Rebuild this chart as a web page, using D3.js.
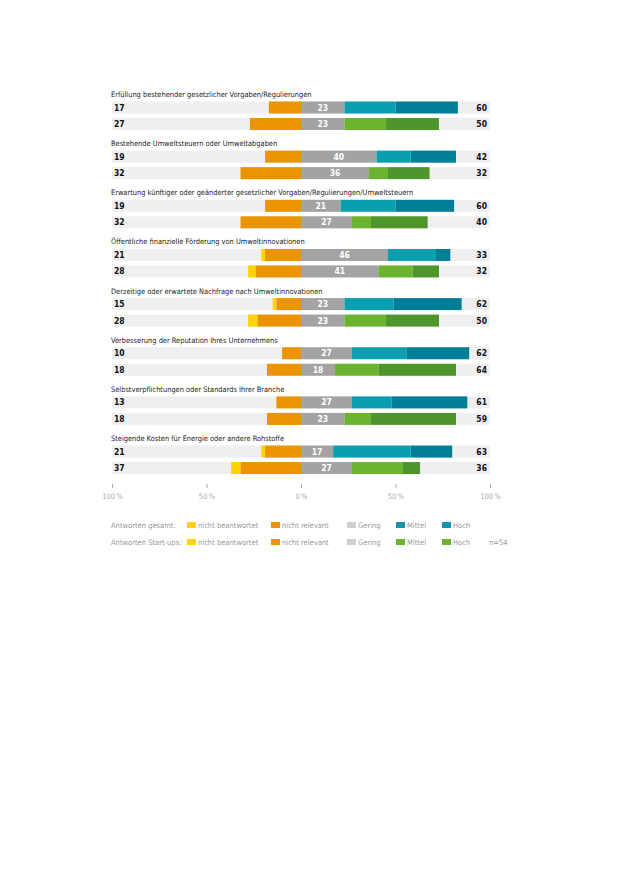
<!DOCTYPE html>
<html>
<head>
<meta charset="utf-8">
<script src="https://cdn.jsdelivr.net/npm/d3@7"></script>
<style>
  body { margin: 0; background: #fff; }
  text { font-family: "Liberation Sans Narrow", "DejaVu Sans Condensed", Roboto, sans-serif; }
</style>
</head>
<body>
<svg width="630" height="891"></svg>
<script>
var svg = d3.select('svg');

// categories (one title per pair of bars)
var categories = [
    "Erfüllung bestehender gesetzlicher Vorgaben/Regulierungen",
    "Bestehende Umweltsteuern oder Umweltabgaben",
    "Erwartung künftiger oder geänderter gesetzlicher Vorgaben/Regulierungen/Umweltsteuern",
    "Öffentliche finanzielle Förderung von Umweltinnovationen",
    "Derzeitige oder erwartete Nachfrage nach Umweltinnovationen",
    "Verbesserung der Reputation Ihres Unternehmens",
    "Selbstverpflichtungen oder Standards Ihrer Branche",
    "Steigende Kosten für Energie oder andere Rohstoffe"
];

// Antworten gesamt
var gesamtNichtBeantwortet = [0, 0, 0, 2, 2, 0, 0, 2];
var gesamtNichtRelevant    = [17, 19, 19, 19, 13, 10, 13, 19];
var gesamtGering           = [23, 40, 21, 46, 23, 27, 27, 17];
var gesamtMittel           = [27, 18, 29, 25, 26, 29, 21, 41];
var gesamtHoch             = [33, 24, 31, 8, 36, 33, 40, 22];

// Antworten Start-ups
var startNichtBeantwortet = [0, 0, 0, 4, 5, 0, 0, 5];
var startNichtRelevant    = [27, 32, 32, 24, 23, 18, 18, 32];
var startGering           = [23, 36, 27, 41, 23, 18, 23, 27];
var startMittel           = [22, 10, 10, 18, 22, 23, 14, 27];
var startHoch             = [28, 22, 30, 14, 28, 41, 45, 9];

var axisTicks = [-100, -50, 0, 50, 100];

var colors = {
    nb: '#ffd400', nr: '#ec9400', gering: '#a3a3a3',
    mittelG: '#0a9fb0', hochG: '#007e97',
    mittelS: '#6cb42f', hochS: '#4e962b'
};

// build the rows from the arrays
var rows = [];
categories.forEach(function(c, i){
    rows.push({cat: i, type: 'g', nb: gesamtNichtBeantwortet[i], nr: gesamtNichtRelevant[i],
        gering: gesamtGering[i], mittel: gesamtMittel[i], hoch: gesamtHoch[i]});
    rows.push({cat: i, type: 's', nb: startNichtBeantwortet[i], nr: startNichtRelevant[i],
        gering: startGering[i], mittel: startMittel[i], hoch: startHoch[i]});
});

var x = d3.scaleLinear().domain([-100, 100]).range([112, 490]);
var catY = d3.scaleBand().domain(d3.range(categories.length)).range([94, 94 + 8 * 49.15]);
var rowOffset = {g: 13.5, s: 30};   // row centre below the category title
var barH = 12;

function rowCenter(d){ return catY(d.cat) + rowOffset[d.type]; }

// category titles
svg.selectAll('.title')
    .data(categories)
    .enter()
    .append('text')
    .attr('class', 'title')
    .attr('x', 111)
    .attr('y', function(d, i){ return catY(i) + 3; })
    .style('font-size', '7.4px')
    .style('fill', '#222')
    .text(function(d){ return d; });

// gray background rows
svg.selectAll('.bg')
    .data(rows)
    .enter()
    .append('rect')
    .attr('x', x(-100))
    .attr('width', x(100) - x(-100))
    .attr('y', function(d){ return rowCenter(d) - barH / 2; })
    .attr('height', barH)
    .attr('fill', '#efefef');

// segments: left of zero (nicht relevant, nicht beantwortet) and right (gering, mittel, hoch)
function segments(d){
    var mc = d.type == 'g' ? colors.mittelG : colors.mittelS;
    var hc = d.type == 'g' ? colors.hochG : colors.hochS;
    return [
        {row: d, x0: -(d.nr + d.nb), x1: -d.nr, c: colors.nb},
        {row: d, x0: -d.nr, x1: 0, c: colors.nr},
        {row: d, x0: 0, x1: d.gering, c: colors.gering},
        {row: d, x0: d.gering, x1: d.gering + d.mittel, c: mc},
        {row: d, x0: d.gering + d.mittel, x1: d.gering + d.mittel + d.hoch, c: hc}
    ];
}

var rowG = svg.selectAll('.row')
    .data(rows)
    .enter()
    .append('g')
    .attr('class', 'row');

rowG.selectAll('rect')
    .data(function(d){ return segments(d).filter(function(s){ return s.x1 > s.x0; }); })
    .enter()
    .append('rect')
    .attr('x', function(s){ return x(s.x0); })
    .attr('width', function(s){ return x(s.x1) - x(s.x0); })
    .attr('y', function(s){ return rowCenter(s.row) - barH / 2; })
    .attr('height', barH)
    .attr('fill', function(s){ return s.c; });

// left numbers
rowG.append('text')
    .attr('x', 114)
    .attr('y', function(d){ return rowCenter(d) + 3; })
    .style('font-size', '8.5px')
    .style('font-weight', 'bold')
    .style('fill', '#111')
    .text(function(d){ return d.nb + d.nr; });

// right numbers
rowG.append('text')
    .attr('x', 487)
    .attr('y', function(d){ return rowCenter(d) + 3; })
    .attr('text-anchor', 'end')
    .style('font-size', '8.5px')
    .style('font-weight', 'bold')
    .style('fill', '#111')
    .text(function(d){ return d.mittel + d.hoch; });

// gering label in the gray segment
rowG.append('text')
    .attr('x', function(d){ return x(d.gering / 2); })
    .attr('y', function(d){ return rowCenter(d) + 3; })
    .attr('text-anchor', 'middle')
    .style('font-size', '8.5px')
    .style('font-weight', 'bold')
    .style('fill', '#fff')
    .text(function(d){ return d.gering; });

// axis
var axis = svg.append('g')
    .attr('transform', 'translate(0,484)')
    .call(d3.axisBottom(x).tickValues(axisTicks).tickSize(4).tickPadding(4)
        .tickFormat(function(d){ return Math.abs(d) + '\u2009%'; }));
axis.select('.domain').remove();
axis.selectAll('line').attr('stroke', '#aaa').attr('y1', 0).attr('y2', 4);
axis.selectAll('text').style('fill', '#aaa').style('font-size', '7.5px').attr('dy', '0.9em');

// legend
var legendLabels = ['nicht beantwortet', 'nicht relevant', 'Gering', 'Mittel', 'Hoch'];
var legendX = [187, 271, 347, 396, 442];
var legendRows = [
    {label: 'Antworten gesamt:', y: 525, cols: [colors.nb, colors.nr, '#d0d0d0', '#1596a6', '#1596a6']},
    {label: 'Antworten Start-ups:', y: 542, cols: [colors.nb, colors.nr, '#d0d0d0', '#6cb42f', '#6cb42f']}
];

legendRows.forEach(function(r){
    svg.append('text')
        .attr('x', 111).attr('y', r.y + 3)
        .style('font-size', '7.5px').style('fill', '#999')
        .text(r.label);
    legendLabels.forEach(function(l, j){
        svg.append('rect')
            .attr('x', legendX[j]).attr('y', r.y - 3)
            .attr('width', 9).attr('height', 6)
            .attr('fill', r.cols[j]);
        svg.append('text')
            .attr('x', legendX[j] + 11).attr('y', r.y + 3)
            .style('font-size', '7.5px').style('fill', '#999')
            .text(l);
    });
});

svg.append('text')
    .attr('x', 489).attr('y', 545)
    .style('font-size', '7.5px').style('fill', '#999')
    .text('n=54');
</script>
</body>
</html>
